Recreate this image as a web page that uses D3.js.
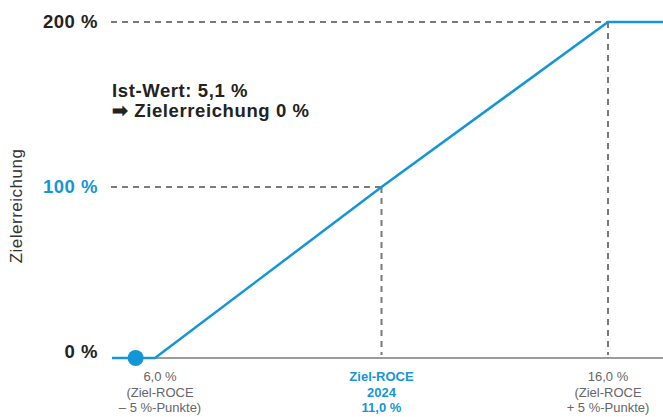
<!DOCTYPE html>
<html>
<head>
<meta charset="utf-8">
<script src="https://cdn.jsdelivr.net/npm/d3@7"></script>
<style>
  html, body { margin: 0; padding: 0; background: #fff; }
  svg { display: block; font-family: "Liberation Sans", Arial, Helvetica, sans-serif; }
</style>
</head>
<body>
<svg id="chart" width="663" height="417"></svg>
<script>
// ROCE (in %) against target achievement (in %)
const roceKnots = [4, 6, 11, 16, 17.2];
const achievement = [0, 0, 100, 200, 200];
const actualRoce = 5.1;
const actualAchievement = 0;

// y ticks and x tick annotations
const yTicks = [0, 100, 200];
const yTickLabels = ["0 %", "100 %", "200 %"];
const xTicks = [6, 11, 16];
const xTickLabels = [
  ["6,0 %", "(Ziel-ROCE", "– 5 %-Punkte)"],
  ["Ziel-ROCE", "2024", "11,0 %"],
  ["16,0 %", "(Ziel-ROCE", "+ 5 %-Punkte)"]
];
const highlightTick = 11;
const yTitle = "Zielerreichung";
const noteLines = ["Ist-Wert: 5,1 %", "➡ Zielerreichung 0 %"];

const blue = "#1496d6";
const dark = "#222";
const grey = "#7a7a7a";

const svg = d3.select("#chart");

// schematic (piecewise) scales
const x = d3.scaleLinear().domain([4, 6, 16, 17.2]).range([112, 155, 608, 663]);
const y = d3.scaleLinear().domain([0, 100, 200]).range([358, 187, 22]);

// baseline axis
svg.append("line")
  .attr("x1", x(4)).attr("x2", 663)
  .attr("y1", y(0)).attr("y2", y(0))
  .attr("stroke", grey).attr("stroke-width", 1.5);

// guide lines for 100 % and 200 %
const guides = [[11, 100], [16, 200]];
guides.forEach(([gx, gy]) => {
  svg.append("line")
    .attr("x1", 111).attr("x2", x(gx))
    .attr("y1", y(gy)).attr("y2", y(gy))
    .attr("stroke", grey).attr("stroke-width", 2)
    .attr("stroke-dasharray", "6,5");
  svg.append("line")
    .attr("x1", x(gx)).attr("x2", x(gx))
    .attr("y1", y(gy)).attr("y2", y(0) - 3)
    .attr("stroke", grey).attr("stroke-width", 2)
    .attr("stroke-dasharray", "6,5");
});

// y tick labels
svg.append("g").selectAll("text")
  .data(yTicks)
  .join("text")
  .attr("x", 98)
  .attr("y", d => y(d) + (d === 0 ? 0 : 6))
  .attr("text-anchor", "end")
  .attr("font-size", 18.5)
  .attr("font-weight", "bold")
  .attr("letter-spacing", 0.5)
  .attr("fill", d => d === 100 ? blue : dark)
  .text((d, i) => yTickLabels[i]);

// y axis title
svg.append("text")
  .attr("transform", `translate(22,206) rotate(-90)`)
  .attr("text-anchor", "middle")
  .attr("font-size", 17)
  .attr("letter-spacing", 0.5)
  .attr("fill", "#333")
  .text(yTitle);

// x tick annotations
const xg = svg.append("g");
xTicks.forEach((t, i) => {
  const isHi = t === highlightTick;
  const txt = xg.append("text")
    .attr("text-anchor", "middle")
    .attr("font-size", 13)
    .attr("font-weight", isHi ? "bold" : "normal")
    .attr("fill", isHi ? blue : "#666");
  xTickLabels[i].forEach((s, j) => {
    txt.append("tspan")
      .attr("x", x(t) + (i === 0 ? 5 : 0))
      .attr("y", 381 + j * 15.5)
      .text(s);
  });
});

// target achievement curve
const line = d3.line().x(d => x(d[0])).y(d => y(d[1]));
svg.append("path")
  .datum(roceKnots.map((r, i) => [r, achievement[i]]))
  .attr("d", line)
  .attr("fill", "none")
  .attr("stroke", blue)
  .attr("stroke-width", 2.5)
  .attr("stroke-linejoin", "miter");

// actual value marker
svg.append("circle")
  .attr("cx", x(actualRoce))
  .attr("cy", y(actualAchievement))
  .attr("r", 8)
  .attr("fill", blue);

// note
const note = svg.append("text")
  .attr("font-size", 18.5)
  .attr("font-weight", "bold")
  .attr("letter-spacing", 0.6)
  .attr("fill", dark);
noteLines.forEach((s, j) => {
  note.append("tspan").attr("x", 112).attr("y", 97 + j * 20).text(s);
});
</script>
</body>
</html>
